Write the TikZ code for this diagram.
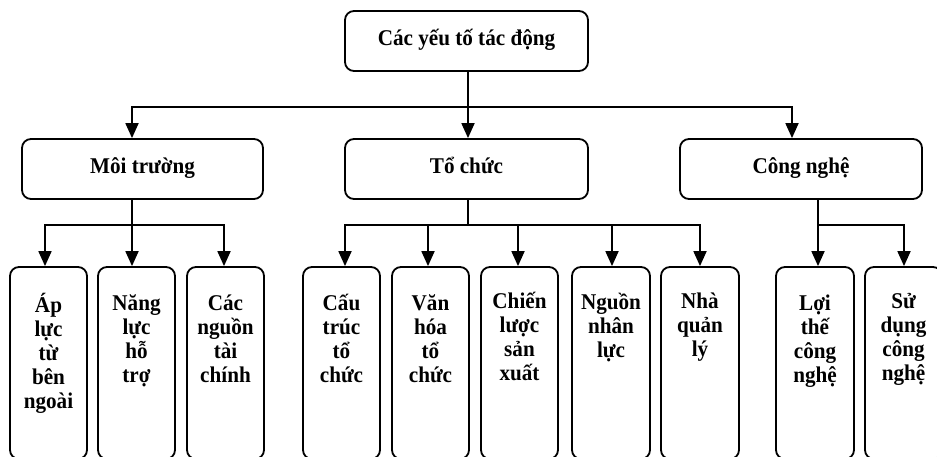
\documentclass[tikz,border=0pt]{standalone}
\usepackage{fontspec}
\setmainfont{Liberation Serif}[BoldFeatures={FakeStretch=0.94}]
\usetikzlibrary{arrows.meta}
\newcommand{\fstrut}{\rule{0pt}{17pt}}
\begin{document}
\begin{tikzpicture}[x=1pt,y=-1pt,
  box/.style={draw, line width=1.8pt, rounded corners=9pt, inner sep=0pt},
  wide/.style={box, minimum width=241pt, minimum height=60pt,
    font=\fontsize{22.5}{24}\selectfont\bfseries, text height=15pt, text depth=6pt},
  tall/.style={box, minimum width=77pt, minimum height=192pt},
  lbl/.style={font=\fontsize{22.5}{24}\selectfont\bfseries, anchor=north, align=center, inner sep=0pt},
  conn/.style={line width=1.8pt},
  arr/.style={conn, -{Triangle[length=15pt,width=13pt]}}]
\clip (0,0) rectangle (937,456);
% level 1
\node[wide, minimum width=243pt] (top) at (466.5,41) {Các yếu tố tác động};
% level 2
\node[wide] (mt) at (142.5,169) {Môi trường};
\node[wide, minimum width=243pt] (tc) at (466.5,169) {Tổ chức};
\node[wide, minimum width=242pt] (cn) at (801,169) {Công nghệ};
% level 3 boxes
\node[tall] (b1) at (48.5,363) {};
\node[tall] (b2) at (136.5,363) {};
\node[tall] (b3) at (225.5,363) {};
\node[tall] (b4) at (341.5,363) {};
\node[tall] (b5) at (430.5,363) {};
\node[tall] (b6) at (519.5,363) {};
\node[tall, minimum width=78pt] (b7) at (611,363) {};
\node[tall, minimum width=78pt] (b8) at (700,363) {};
\node[tall, minimum width=78pt] (b9) at (815,363) {};
\node[tall] (b10) at (903.5,363) {};
% level 3 labels
\node[lbl] (t1) at (48.5,293) {\fstrut Áp\\lực\\từ\\bên\\ngoài};
\node[lbl] (t2) at (136.5,293) {\fstrut Năng\\lực\\hỗ\\trợ};
\node[lbl] (t3) at (225.5,293) {\fstrut Các\\nguồn\\tài\\chính};
\node[lbl] (t4) at (341.5,293) {\fstrut Cấu\\trúc\\tổ\\chức};
\node[lbl] (t5) at (430.5,293) {\fstrut Văn\\hóa\\tổ\\chức};
\node[lbl] (t6) at (519.5,291) {\fstrut Chiến\\lược\\sản\\xuất};
\node[lbl] (t7) at (611,292) {\fstrut Nguồn\\nhân\\lực};
\node[lbl] (t8) at (700,291) {\fstrut Nhà\\quản\\lý};
\node[lbl] (t9) at (815,293) {\fstrut Lợi\\thế\\công\\nghệ};
\node[lbl] (t10) at (903.5,291) {\fstrut Sử\\dụng\\công\\nghệ};
% junctions
\coordinate (j0) at (468,107);
\coordinate (jm) at (132,225);
\coordinate (jt) at (468,225);
\coordinate (jc) at (818,225);
% level 1 -> 2
\draw[arr] ([xshift=1.5pt]top.south) -- ([xshift=1.5pt]tc.north);
\draw[arr] (j0) -| ([xshift=-10.5pt]mt.north);
\draw[arr] (j0) -| ([xshift=-9pt]cn.north);
% Moi truong
\draw[conn] ([xshift=-10.5pt]mt.south) -- (jm);
\draw[arr] (jm) -| ([xshift=-3.5pt]b1.north);
\draw[arr] (jm) -- ([xshift=-4.5pt]b2.north);
\draw[arr] (jm) -| ([xshift=-1.5pt]b3.north);
% To chuc
\draw[conn] ([xshift=1.5pt]tc.south) -- (jt);
\draw[arr] (jt) -| ([xshift=3.5pt]b4.north);
\draw[arr] (jt) -| ([xshift=-2.5pt]b5.north);
\draw[arr] (jt) -| ([xshift=-1.5pt]b6.north);
\draw[arr] (jt) -| ([xshift=1pt]b7.north);
\draw[arr] (jt) -| (b8.north);
% Cong nghe
\draw[conn] ([xshift=17pt]cn.south) -- (jc);
\draw[arr] (jc) -- ([xshift=3pt]b9.north);
\draw[arr] (jc) -| ([xshift=0.5pt]b10.north);
\end{tikzpicture}
\end{document}
